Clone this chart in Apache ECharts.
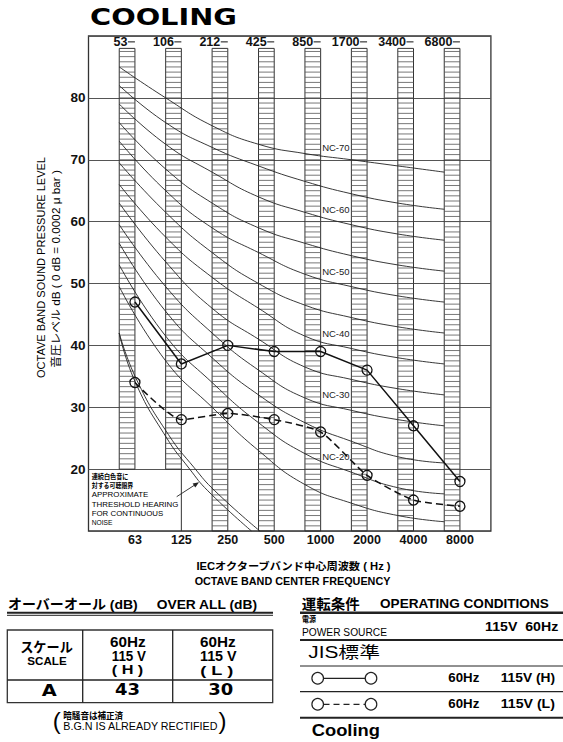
<!DOCTYPE html>
<html><head><meta charset="utf-8">
<script src="https://cdn.jsdelivr.net/npm/echarts@6/dist/echarts.min.js"></script>
<style>html,body{margin:0;padding:0;background:#fff}#c{width:563px;height:742px}</style>
</head><body><div id="c"></div>
<script>
// ---------- data ----------
const bandLabels = ['63','125','250','500','1000','2000','4000','8000'];
const topBandLabels = ['53','106','212','425','850','1700','3400','6800'];
const yTicks = [20,30,40,50,60,70,80];
const levelH = [47,37,40,39,39,36,27,18];   // 60Hz 115V (H)  solid
const levelL = [34,28,29,28,26,19,15,14];   // 60Hz 115V (L)  dashed
// NC curves, values at the band columns 53..6800
const nc70 = [85,80,75.5,72.5,71,70,69,68];
const nc65 = [82,76,72,69,66.5,64.5,63,62];
const nc60 = [79,72.5,68,64,61.5,59.5,58,57];
const nc55 = [76,68.5,63,59,56.5,54.5,53,52];
const nc50 = [73,65,59,55,51.5,49.5,48,47];
const nc45 = [69.5,61.5,55,50,46.5,44.5,43,42];
const nc40 = [66,57.5,51,46,41.5,39.5,38,37];
const nc35 = [63,53.5,46,41,36.5,34.5,33,32];
const nc30 = [59.5,49.5,42,36,31.5,29.5,28,27];
const nc25 = [56.5,45.5,38,32,27.5,24.5,22,21];
const nc20 = [53,41.5,34,27.5,22.5,19.5,17,16];
const nc15 = [49.5,37.5,30,23,17.5,14.5,12.5,11.5];
const ncLabelNames = ['NC-70','NC-60','NC-50','NC-40','NC-30','NC-20'];
const ncLabelLevels = [70,60,50,40,30,20];
// approximate threshold of hearing (two lines)
const thrXA = [-0.34, 0, 0.67, 1.18, 1.57, 2.51];
const thrA  = [42, 34.2, 25.2, 20, 16.5, 10];
const thrXB = [-0.34, 0.04, 0.72, 1.28, 1.72, 2.69];
const thrB  = [42, 34.4, 25.6, 20.2, 16.5, 10];
const noteLines = ['連続白色音に','対する可聴限界','APPROXIMATE','THRESHOLD HEARING','FOR CONTINUOUS','NOISE'];
const overallH = '43';
const overallL = '30';

// ---------- layout ----------
const FONT = "'Liberation Sans', Arial, 'Noto Sans CJK JP', sans-serif";
const WIDE = "'DejaVu Sans', 'Noto Sans CJK JP', sans-serif";
const COL_W = 0.338, COL_TOP = 88, HATCH = 10/12, NOTE_BANDS = 2, LABEL_DB = 89.05;

const chart = echarts.init(document.getElementById('c'), null, {renderer:'svg', width:563, height:742});
const mctx = document.createElement('canvas').getContext('2d');
function measure(text, size, weight, family){ mctx.font = weight+' '+size+'px '+family; return mctx.measureText(text).width; }
function T(text, x, y, size, o){
  o = o || {};
  const weight = o.weight || 'normal', family = o.family || FONT;
  let sx = 1;
  if (o.w) sx = o.w / measure(text, size, weight, family);
  return {type:'text', x:x, y:y, scaleX:sx, rotation:o.rot||0, z:100,
    style:{text:text, x:0, y:0, fontSize:size, fontWeight:weight, fontFamily:family,
      fill:o.color||'#000', align:o.align||'left', verticalAlign:'middle'}};
}
function L(x1,y1,x2,y2,w,dash){ return {type:'line', z:100, shape:{x1,y1,x2,y2}, style:{stroke:'#222', lineWidth:w, lineDash:dash||null}}; }
function C(cx,cy,r){ return {type:'circle', z:100, shape:{cx,cy,r}, style:{fill:'none', stroke:'#222', lineWidth:1.2}}; }

const ncSets = [nc70,nc65,nc60,nc55,nc50,nc45,nc40,nc35,nc30,nc25,nc20,nc15];
const series = [];
// hatched band columns
series.push({
  type:'custom', z:1, silent:true, data: bandLabels.map((_, i) => [i]),
  renderItem: function(params, api){
    const i = api.value(0);
    const inNote = i < NOTE_BANDS;
    const bot = inNote ? 20 : 10;
    const tl = api.coord([i - COL_W, COL_TOP]);
    const br = api.coord([i, bot]);
    const ch = [];
    ch.push({type:'rect', shape:{x:tl[0], y:tl[1], width:br[0]-tl[0], height:br[1]-tl[1]},
      style:{fill:'none', stroke:'#333', lineWidth:1}});
    for (let v = bot + HATCH; v < COL_TOP - 0.05; v += HATCH) {
      const yy = api.coord([i, v])[1];
      ch.push({type:'line', shape:{x1:tl[0], y1:yy, x2:br[0], y2:yy}, style:{stroke:'#555', lineWidth:0.8}});
    }
    const ly = api.coord([i, LABEL_DB])[1];
    ch.push({type:'text', style:{text:topBandLabels[i], x:br[0]-7.5, y:ly, align:'right', verticalAlign:'middle',
      fontSize:12.5, fontWeight:'bold', fontFamily:FONT, fill:'#111'}});
    ch.push({type:'line', shape:{x1:br[0]-7, y1:ly, x2:br[0], y2:ly}, style:{stroke:'#111', lineWidth:1}});
    if (i === NOTE_BANDS - 1) {
      const b = api.coord([i, 10]);
      ch.push({type:'line', shape:{x1:br[0], y1:br[1], x2:b[0], y2:b[1]}, style:{stroke:'#333', lineWidth:1}});
    }
    return {type:'group', children:ch};
  }
});
// NC curves
ncSets.forEach(function(vals){
  series.push({type:'line', silent:true, z:3, symbol:'none', smooth:0.5,
    data: vals.map((v,i) => [i - COL_W, v]), lineStyle:{color:'#222', width:0.9}});
});
// NC labels
series.push({
  type:'custom', z:4, silent:true, data: ncLabelLevels.map((v,k) => [4, v, k]),
  renderItem: function(params, api){
    const p = api.coord([api.value(0), api.value(1) + 2]);
    return {type:'text', style:{text:ncLabelNames[api.value(2)], x:p[0]+1.5, y:p[1], align:'left', verticalAlign:'middle',
      fontSize:9.5, fontFamily:FONT, fill:'#222'}};
  }
});
// threshold lines
[[thrXA,thrA],[thrXB,thrB]].forEach(function(pair){
  series.push({type:'line', silent:true, z:3, symbol:'none', smooth:0.5,
    data: pair[0].map((x,k) => [x, pair[1][k]]), lineStyle:{color:'#222', width:0.9}});
});
// measured levels
series.push({type:'line', name:'H', z:6, data: levelH.map((v,i)=>[i,v]), symbol:'circle', symbolSize:10,
  itemStyle:{color:'rgba(0,0,0,0)', borderColor:'#111', borderWidth:1.3}, lineStyle:{color:'#111', width:1.5}});
series.push({type:'line', name:'L', z:6, data: levelL.map((v,i)=>[i,v]), symbol:'circle', symbolSize:10, smooth:0.2,
  itemStyle:{color:'rgba(0,0,0,0)', borderColor:'#111', borderWidth:1.3}, lineStyle:{color:'#111', width:1.5, type:[7,4]}});

// graphics
const g = [];
g.push(T('COOLING', 90, 17.5, 23, {weight:'bold', family:WIDE, w:147}));
g.push(T('OCTAVE BAND SOUND PRESSURE LEVEL', 41, 267.5, 11, {align:'center', rot:Math.PI/2, w:221}));
g.push(T('音圧レベル dB ( 0 dB = 0.0002 μ bar )', 56, 269, 11, {align:'center', rot:Math.PI/2, w:198}));
g.push(T('IECオクターブバンド中心周波数 ( Hz )', 293.5, 566.5, 10.5, {align:'center', weight:'bold', w:195}));
g.push(T('OCTAVE BAND CENTER FREQUENCY', 292.5, 581, 10.5, {align:'center', weight:'bold', w:196}));
// note in plot
const noteW = [36.7, 41.7, 56.7, 86.7, 71.7, 20.7];
noteLines.forEach(function(s,k){
  g.push(T(s, 91.7, 476.7 + k*9.1, k<2?7:8, {w:noteW[k], weight: k<2?'bold':'normal'}));
});
g.push(L(176.7, 496.7, 197, 483.5, 0.9));
g.push({type:'polygon', z:100, shape:{points:[[199,482.2],[192.6,483.6],[195.3,487.6]]}, style:{fill:'#222'}});

// bottom-left overall table
g.push(T('オーバーオール (dB)', 8, 605, 13.5, {weight:'bold', w:130}));
g.push(T('OVER ALL (dB)', 156.7, 605, 13.5, {weight:'bold', w:101.3}));
g.push({type:'rect', z:100, shape:{x:7, y:611.8, width:266, height:2}, style:{fill:'#222'}});
g.push(L(7, 615.3, 273, 615.3, 1));
g.push({type:'rect', z:100, shape:{x:7.3, y:630, width:265.4, height:72.7}, style:{fill:'none', stroke:'#333', lineWidth:1.3}});
g.push(L(82.7,630,82.7,702.7,1.3)); g.push(L(172.7,630,172.7,702.7,1.3)); g.push(L(7.3,680,272.7,680,1.3));
g.push(T('スケール', 46.5, 647, 13.5, {align:'center', weight:'bold', w:52.7}));
g.push(T('SCALE', 47, 661.3, 11.5, {align:'center', weight:'bold', w:39.4}));
g.push(T('60Hz', 127.8, 642, 14, {align:'center', weight:'bold', w:35.7}));
g.push(T('115 V', 128.8, 656, 14, {align:'center', weight:'bold', w:34.3}));
g.push(T('( H )', 127.5, 670, 13, {align:'center', weight:'bold', w:31.6}));
g.push(T('60Hz', 217.8, 642, 14, {align:'center', weight:'bold', w:35.7}));
g.push(T('115 V', 218.3, 656, 14, {align:'center', weight:'bold', w:36.7}));
g.push(T('( L )', 216.7, 670, 13, {align:'center', weight:'bold', w:33.3}));
g.push(T('A', 49.2, 690.5, 15, {align:'center', weight:'bold', family:WIDE, w:15}));
g.push(T(overallH, 127.5, 690.5, 15, {align:'center', weight:'bold', family:WIDE, w:25}));
g.push(T(overallL, 220.8, 690.5, 15, {align:'center', weight:'bold', family:WIDE, w:25}));
g.push(T('(', 56.7, 720.5, 24, {align:'center'}));
g.push(T('暗騒音は補正済', 63.3, 716, 9, {weight:'bold', w:60}));
g.push(T('B.G.N IS ALREADY RECTIFIED', 63.3, 726, 10.5, {w:155}));
g.push(T(')', 222.5, 720.5, 24, {align:'center'}));

// bottom-right operating conditions
g.push(T('運転条件', 301.7, 604, 14, {weight:'bold', w:58}));
g.push(T('OPERATING CONDITIONS', 380, 604, 12, {weight:'bold', w:169}));
g.push({type:'rect', z:100, shape:{x:300, y:611.5, width:263, height:2.4}, style:{fill:'#222'}});
g.push(T('電源', 302, 619.5, 8.5, {weight:'bold', w:14}));
g.push(T('POWER SOURCE', 302, 632.7, 10, {w:85}));
g.push(T('115V  60Hz', 558.3, 626.7, 12.5, {align:'right', weight:'bold', w:73.3}));
g.push({type:'rect', z:100, shape:{x:300, y:639, width:263, height:2}, style:{fill:'#222'}});
g.push(T('JIS標準', 308.3, 652.7, 16, {w:71.7}));
g.push(L(300, 666, 563, 666, 1));
g.push(C(317.7, 678.3, 5.8)); g.push(C(371, 678.3, 5.8)); g.push(L(323.5, 678.3, 365.2, 678.3, 1.2));
g.push(T('60Hz', 448.3, 678.3, 12, {weight:'bold', w:31}));
g.push(T('115V (H)', 500.7, 678.3, 12, {weight:'bold', w:54.3}));
g.push(L(300, 691.7, 563, 691.7, 1.2));
g.push(C(317.7, 704.3, 5.8)); g.push(C(371, 704.3, 5.8)); g.push(L(323.5, 704.3, 365.2, 704.3, 1.2, [6,4]));
g.push(T('60Hz', 448.3, 704.3, 12, {weight:'bold', w:31}));
g.push(T('115V (L)', 500.7, 704.3, 12, {weight:'bold', w:54.3}));
g.push({type:'rect', z:100, shape:{x:300, y:716.8, width:263, height:2}, style:{fill:'#222'}});
g.push(T('Cooling', 311.7, 730, 16, {weight:'bold', w:68.3}));

chart.setOption({
  backgroundColor:'#fff',
  animation:false,
  grid:{left:88.5, top:36, width:402.4, height:495, show:true, borderColor:'#333', borderWidth:1.3, backgroundColor:'#fff'},
  xAxis:{type:'value', min:-1, max:7.667, interval:1,
    axisLine:{show:false}, axisTick:{show:false}, splitLine:{show:false},
    axisLabel:{margin:3, fontSize:12.5, fontWeight:'bold', fontFamily:FONT, color:'#111',
      formatter: function(v){ const k = Math.round(v); return (Math.abs(v-k)<1e-6 && bandLabels[k]) ? bandLabels[k] : ''; }}},
  yAxis:{type:'value', min:10, max:90, interval:10,
    axisLine:{show:false}, axisTick:{show:false},
    splitLine:{lineStyle:{color:'#555', width:1}},
    axisLabel:{margin:3, fontSize:13.5, fontWeight:'bold', fontFamily:FONT, color:'#111',
      formatter: function(v){ return yTicks.indexOf(v) >= 0 ? String(v) : ''; }}},
  series: series,
  graphic: g
});
</script>
</body></html>
